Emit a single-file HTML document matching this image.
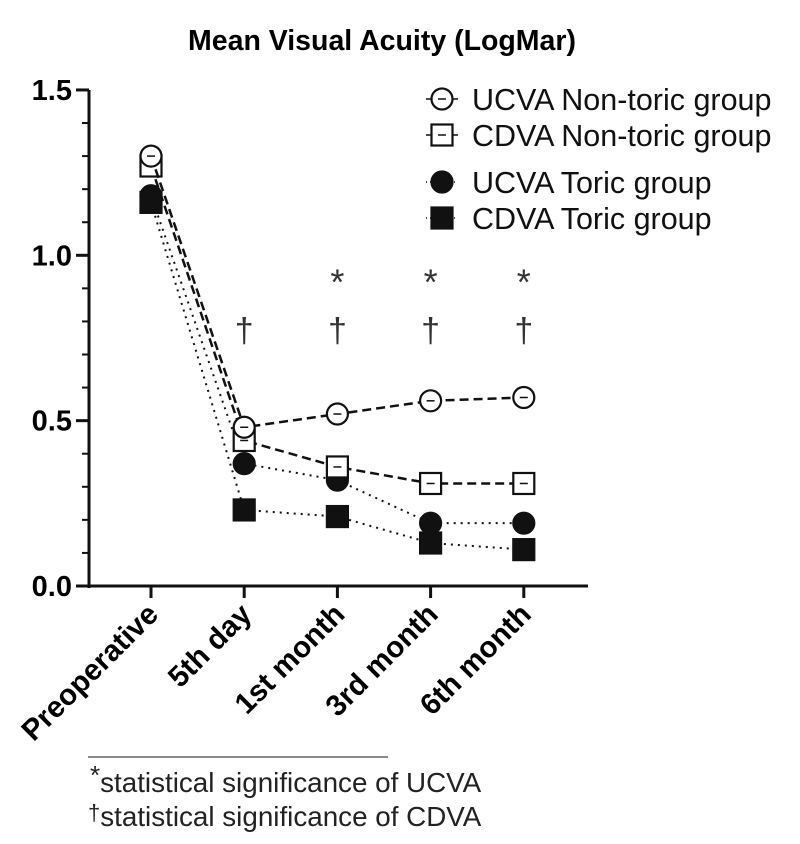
<!DOCTYPE html>
<html><head><meta charset="utf-8"><style>
body{margin:0;background:#fff;}
svg{display:block;font-family:"Liberation Sans",Arial,sans-serif;}
</style></head><body>
<svg id="chart" width="800" height="844" viewBox="0 0 800 844">
<text x="382" y="50" text-anchor="middle" font-size="28.5" font-weight="bold">Mean Visual Acuity (LogMar)</text>
<g id="axes"></g>
<g id="series"></g>
<g id="legend"></g>
<line x1="88" y1="757" x2="388" y2="757" stroke="#444" stroke-width="1.2"/>
<text x="90" y="792" font-size="27.8" fill="#222"><tspan font-size="26" dy="-8">*</tspan><tspan dy="8">statistical significance of UCVA</tspan></text>
<text x="88" y="826" font-size="27.8" fill="#222"><tspan font-size="22" dy="-6">†</tspan><tspan dy="6">statistical significance of CDVA</tspan></text>
</svg>
<script>
const categories=["Preoperative","5th day","1st month","3rd month","6th month"];
const ucvaNonToric=[1.30,0.48,0.52,0.56,0.57];
const cdvaNonToric=[1.27,0.44,0.36,0.31,0.31];
const ucvaToric=[1.18,0.37,0.32,0.19,0.19];
const cdvaToric=[1.16,0.23,0.21,0.13,0.11];
const yTicks=[0,0.5,1.0,1.5];
const yTickLabels=["0.0","0.5","1.0","1.5"];
const ucvaSig=[false,false,true,true,true];
const cdvaSig=[false,true,true,true,true];

const NS="http://www.w3.org/2000/svg";
const X0=151,DX=93.2,Y0=586,YS=330.7;
const xs=i=>X0+i*DX, ys=v=>Y0-v*YS;
function mk(tag,attrs,parent){const e=document.createElementNS(NS,tag);for(const k in attrs)e.setAttribute(k,attrs[k]);parent.appendChild(e);return e;}
const axes=document.getElementById('axes'),ser=document.getElementById('series'),leg=document.getElementById('legend');

let l=mk('line',{x1:89,y1:ys(1.5),x2:89,y2:Y0+2,stroke:'#111','stroke-width':3},axes);


l=mk('line',{x1:87.5,y1:Y0,x2:588,y2:Y0,stroke:'#111','stroke-width':3},axes);


for(let k=0;k<=15;k++){const v=k/10;const major=k%5===0;
 const t=mk('line',{x1:major?76:82,y1:ys(v),x2:89,y2:ys(v),stroke:'#111','stroke-width':major?3:2},axes);
 
 }
yTicks.forEach((v,i)=>{const t=mk('text',{x:72,y:ys(v)+10,'text-anchor':'end','font-size':29,'font-weight':'bold'},axes);t.textContent=yTickLabels[i];
 
 });
categories.forEach((c,i)=>{const x=xs(i);
 const t=mk('line',{x1:x,y1:Y0,x2:x,y2:Y0+12,stroke:'#111','stroke-width':3},axes);
 
 
 const tx=mk('text',{x:x+9,y:Y0+30,'text-anchor':'end','font-size':29.5,'font-weight':'bold',transform:`rotate(-45 ${x+9} ${Y0+30})`},axes);
 tx.textContent=c;
 
 
 if(ucvaSig[i]){const s=mk('text',{x:x,y:ys(0.93)+16,'text-anchor':'middle','font-size':36,fill:'#333'},axes);s.textContent='*';
  
  }
 if(cdvaSig[i]){const s=mk('text',{x:x,y:ys(0.78)+14,'text-anchor':'middle','font-size':34,fill:'#333'},axes);s.textContent='†';
  
  }
});

const defs=[
 {d:cdvaToric,shape:'square',fill:true,dash:'2 5',name:'cdva-toric'},
 {d:ucvaToric,shape:'circle',fill:true,dash:'2 5',name:'ucva-toric'},
 {d:cdvaNonToric,shape:'square',fill:false,dash:'9 5',name:'cdva-non-toric'},
 {d:ucvaNonToric,shape:'circle',fill:false,dash:'9 5',name:'ucva-non-toric'}];
function marker(shape,fill,x,y,parent){
 if(shape==='circle')return mk('circle',{cx:x,cy:y,r:10.5,fill:fill?'#111':'#fff',stroke:'#111','stroke-width':2.2},parent);
 return mk('rect',{x:x-10.5,y:y-10.5,width:21,height:21,fill:fill?'#111':'#fff',stroke:'#111','stroke-width':2.2},parent);}
defs.forEach(s=>{
 const pl=mk('polyline',{points:s.d.map((v,i)=>xs(i)+','+ys(v)).join(' '),fill:'none',stroke:'#111','stroke-width':s.fill?2:2.5,'stroke-dasharray':s.dash},ser);
 
 
 s.d.forEach((v,i)=>{const m=marker(s.shape,s.fill,xs(i),ys(v),ser);
  
  
  if(!s.fill){const h=mk('line',{x1:xs(i)-4,y1:ys(v),x2:xs(i)+4,y2:ys(v),stroke:'#111','stroke-width':1.5},ser);
   
   }
 });
});
const legItems=[
 {label:'UCVA Non-toric group',shape:'circle',fill:false,y:99},
 {label:'CDVA Non-toric group',shape:'square',fill:false,y:135},
 {label:'UCVA Toric group',shape:'circle',fill:true,y:182},
 {label:'CDVA Toric group',shape:'square',fill:true,y:218}];
legItems.forEach(it=>{
 const g=mk('g',{},leg);
 
 
 mk('line',{x1:426,y1:it.y,x2:458,y2:it.y,stroke:'#111','stroke-width':1.5,'stroke-dasharray':it.fill?'1 3':'6 3'},g);
 marker(it.shape,it.fill,442,it.y,g);
 if(!it.fill)mk('line',{x1:438,y1:it.y,x2:446,y2:it.y,stroke:'#111','stroke-width':1.5},g);
 const t=mk('text',{x:472,y:it.y+11,'font-size':30.5,fill:'#111'},g);t.textContent=it.label;
});
</script>
</body></html>
